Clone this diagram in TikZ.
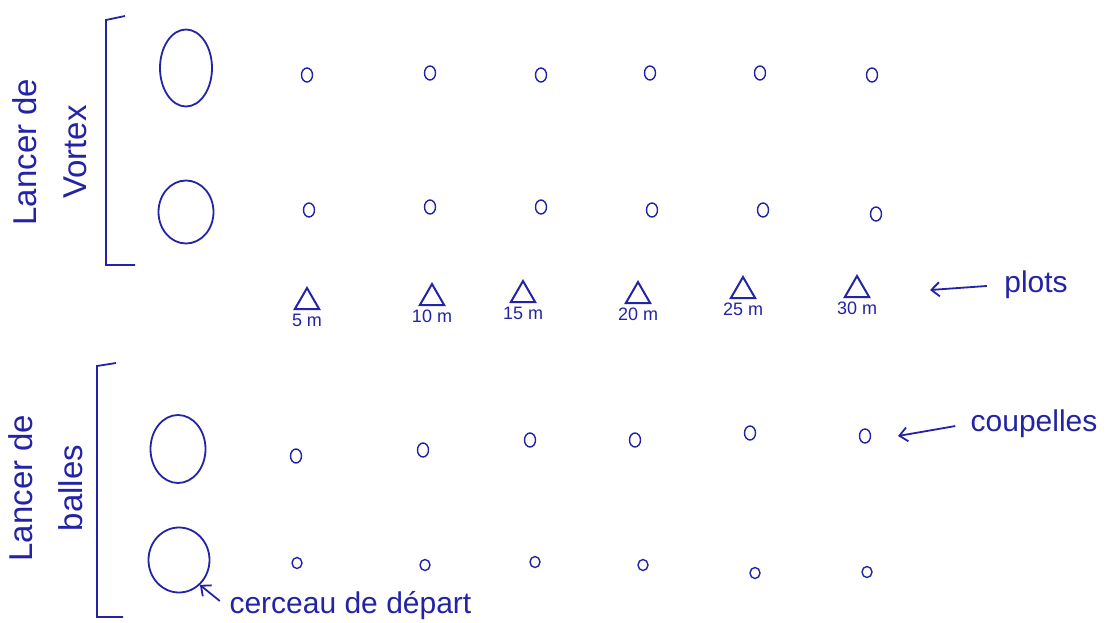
\documentclass[tikz,border=0pt]{standalone}
\usepackage{fontspec}
\setmainfont{Liberation Sans}
\usetikzlibrary{arrows.meta,positioning,shapes.geometric}
\definecolor{ink}{RGB}{35,35,165}
\tikzset{
  hoop/.style={
    ellipse,
    draw=ink,
    line width=1.8pt,
    inner sep=0pt
  },
  cup/.style={
    ellipse,
    draw=ink,
    line width=1.4pt,
    minimum width=11pt,
    minimum height=14pt,
    inner sep=0pt
  },
  cone/.style={
    regular polygon,
    regular polygon sides=3,
    draw=ink,
    line width=2pt,
    minimum size=28pt,
    inner sep=0pt
  },
  dist/.style={
    text=ink,
    inner sep=1pt,
    font=\fontsize{18}{20}\selectfont
  },
  lbl/.style={
    text=ink,
    align=center,
    font=\fontsize{30}{34}\selectfont
  },
  sidelbl/.style={
    lbl,
    rotate=90,
    font=\fontsize{33}{50}\selectfont
  },
  bracket/.style={
    draw=ink,
    line width=1.8pt
  },
  arrow/.style={
    -{Straight Barb[length=8pt,width=14pt]},
    draw=ink,
    line width=1.8pt
  }
}

\begin{document}
\begin{tikzpicture}[x=1pt,y=-1pt]
  \useasboundingbox (0,0) rectangle (1107,623);

  % left labels and brackets
  \node[sidelbl] (vortex) at (50,152) {Lancer de\\Vortex};
  \node[sidelbl] (balles) at (46,488) {Lancer de\\balles};
  \draw[bracket] (125,16) -- (106,20) -- (106,265) -- (135,265);
  \draw[bracket] (116,363) -- (97,366) -- (97,617) -- (123,617);

  % start hoops
  \node[hoop, minimum width=52pt, minimum height=77pt] (h1) at (186,68) {};
  \node[hoop, minimum width=55pt, minimum height=63pt] (h2) at (186,212) {};
  \node[hoop, minimum width=55pt, minimum height=68pt] (h3) at (178,449) {};
  \node[hoop, minimum width=61pt, minimum height=65pt] (h4) at (179,560) {};

  % cups
  \foreach \x/\y [count=\i] in {307/75,430/73,541/75,650/73,760/73,872/75}
    \node[cup] (a\i) at (\x,\y) {};
  \foreach \x/\y [count=\i] in {309/210,430/207,541/207,652/210,763/210,876/214}
    \node[cup] (b\i) at (\x,\y) {};
  \foreach \x/\y [count=\i] in {296/456,423/450,530/440,635/440,750/433,865/436}
    \node[cup] (c\i) at (\x,\y) {};
  \foreach \x/\y [count=\i] in {297/563,425/565,535/562,643/565,755/573,867/572}
    \node[cup, minimum width=10pt, minimum height=11pt] (e\i) at (\x,\y) {};

  % cones and distances
  \foreach \x/\y/\len [count=\i] in {307/302/5,432/298/10,523/295/15,638/296/20,743/291/25,857/290/30} {
    \node[cone] (p\i) at (\x,\y) {};
    \node[dist, below=3pt of p\i] (d\i) {\len{} m};
  }

  % notes
  \node[lbl] (plots) at (1036,285) {plots};
  \coordinate (plotstip) at (930,290);
  \draw[arrow, shorten <=14pt] (plots.west) -- (plotstip);

  \node[lbl] (coupelles) at (1034,424) {coupelles};
  \coordinate (cuptip) at (898,436);
  \draw[arrow, shorten <=12pt] (coupelles.west) -- (cuptip);

  \node[lbl, anchor=west] (depart) at (226,606) {cerceau de départ};
  \draw[arrow, shorten <=8pt] (depart.west) -- (h4.-50);
\end{tikzpicture}
\end{document}
